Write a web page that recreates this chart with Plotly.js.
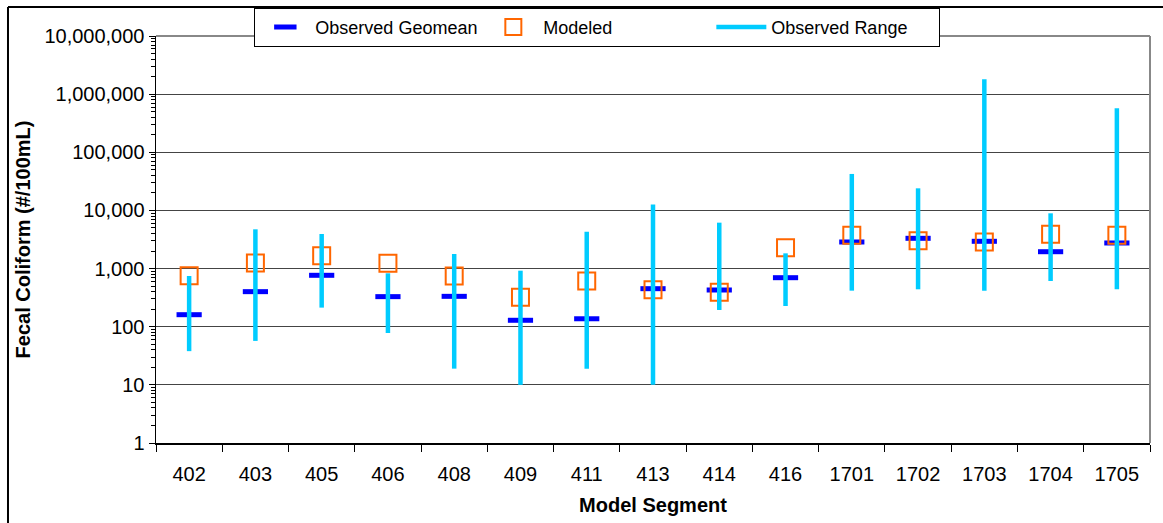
<!DOCTYPE html>
<html>
<head>
<meta charset="utf-8">
<script src="https://cdn.plot.ly/plotly-3.0.1.min.js"></script>
<style>html,body{margin:0;padding:0;background:#fff;}#chart{width:1163px;height:523px;}</style>
</head>
<body>
<div id="chart"></div>
<script>
var segments = ['402','403','405','406','408','409','411','413','414','416','1701','1702','1703','1704','1705'];
var geomean  = [161, 401, 766, 329, 333, 129, 137, 451, 428, 697, 2865, 3315, 2945, 1950, 2755];
var modeled  = [755, 1247, 1667, 1230, 743, 321, 611, 433, 391, 2290, 3730, 3020, 2865, 3880, 3730];
var rangeLow = [38, 57, 213, 78, 19, 10, 19, 10, 194, 227, 417, 440, 417, 611, 440];
var rangeHigh= [745, 4735, 3935, 829, 1780, 920, 4310, 12700, 6160, 1828, 42400, 24000, 1800000, 8920, 571000];

// build range segments (category, low, high, gap)
var rx = [], ry = [];
for (var i = 0; i < segments.length; i++) {
  rx.push(segments[i], segments[i], null);
  ry.push(rangeLow[i], rangeHigh[i], null);
}

var font = 'Arial, "Liberation Sans", Helvetica, sans-serif';

var traces = [
  {
    name: 'Observed Geomean', type: 'scatter', mode: 'markers',
    x: segments, y: geomean,
    marker: {symbol: 'line-ew', size: 18, color: '#0000FF', line: {color: '#0000FF', width: 5}}
  },
  {
    name: 'Modeled', type: 'scatter', mode: 'markers',
    x: segments, y: modeled,
    marker: {symbol: 'square-open', size: 17, color: '#FF6600', line: {color: '#FF6600', width: 2}}
  },
  {
    name: 'Observed Range', type: 'scatter', mode: 'lines',
    x: rx, y: ry, connectgaps: false,
    line: {color: '#00CCFF', width: 4.5}
  }
];

var layout = {
  width: 1163, height: 523,
  margin: {l: 156, r: 13, t: 36, b: 80, autoexpand: false},
  paper_bgcolor: '#fff', plot_bgcolor: '#fff',
  font: {family: font, size: 18, color: '#000'},
  showlegend: true,
  legend: {
    orientation: 'h', x: 0.444, xanchor: 'center', y: 1.069, yanchor: 'top',
    bgcolor: '#fff', bordercolor: '#000', borderwidth: 1,
    font: {family: font, size: 18, color: '#000'},
    traceorder: 'normal', itemwidth: 50, entrywidth: 163
  },
  xaxis: {
    type: 'category', categoryorder: 'array', categoryarray: segments,
    showline: true, linecolor: '#000', linewidth: 1.5,
    ticks: 'outside', ticklen: 7, tickcolor: '#000', tickson: 'boundaries',
    ticklabelstandoff: 12,
    showgrid: false, zeroline: false,
    tickfont: {family: font, size: 20, color: '#000'},
    title: {text: '<b>Model Segment</b>', font: {family: font, size: 20, color: '#000'}, standoff: 14},
    range: [-0.5, 14.5]
  },
  yaxis: {
    type: 'log', range: [0, 7], dtick: 1, tickformat: ',d',
    showline: true, linecolor: '#000', linewidth: 1.5,
    ticks: 'outside', ticklen: 6, tickcolor: '#000',
    showgrid: true, gridcolor: '#444', gridwidth: 1,
    zeroline: false,
    minor: {ticks: 'outside', ticklen: 4, tickcolor: '#000', dtick: 'D1', showgrid: false},
    tickfont: {family: font, size: 20, color: '#000'},
    title: {text: '<b>Fecal Coliform (#/100mL)</b>', font: {family: font, size: 20, color: '#000'}, standoff: 8}
  },
  shapes: [
    // plot area frame (gray top/right)
    {type: 'line', xref: 'paper', yref: 'paper', x0: 0, x1: 1, y0: 1, y1: 1, line: {color: '#888', width: 2}},
    {type: 'line', xref: 'paper', yref: 'paper', x0: 1, x1: 1, y0: 0, y1: 1, line: {color: '#888', width: 2}},
    // outer chart border (top and left)
    {type: 'line', xref: 'paper', yref: 'paper', x0: -0.1489, x1: 1.02, y0: 1.0713, y1: 1.0713, line: {color: '#000', width: 2}},
    {type: 'line', xref: 'paper', yref: 'paper', x0: -0.1489, x1: -0.1489, y0: 1.0713, y1: -0.21, line: {color: '#000', width: 2}}
  ]
};

Plotly.newPlot('chart', traces, layout, {displayModeBar: false, staticPlot: true});
</script>
</body>
</html>
